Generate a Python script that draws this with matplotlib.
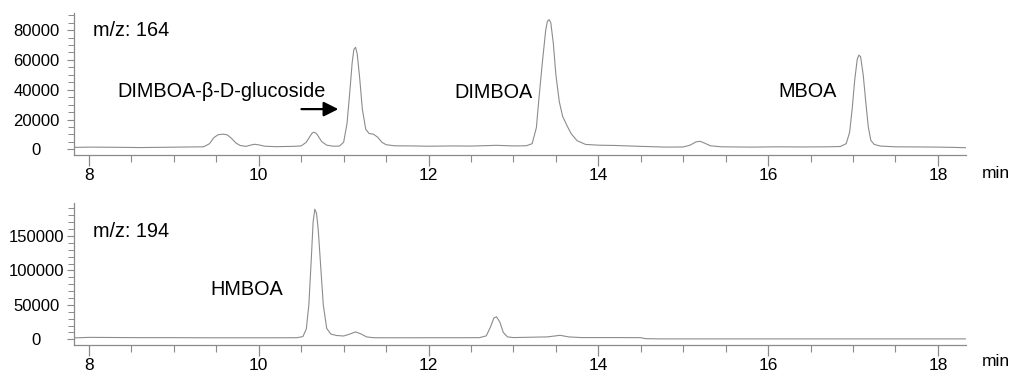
import matplotlib
matplotlib.use('Agg')
import matplotlib.pyplot as plt
from matplotlib.ticker import MultipleLocator

plt.rcParams['font.family'] = ['Liberation Sans', 'DejaVu Sans']

# m/z 164 trace (time in min, intensity)
t164 = [7.82, 8.0, 8.3, 8.6, 8.9, 9.2, 9.35, 9.42, 9.47, 9.52, 9.58, 9.63, 9.68, 9.73,
        9.78, 9.85, 9.9, 9.95, 10.0, 10.07, 10.2, 10.4, 10.5, 10.56, 10.61, 10.63, 10.65,
        10.67, 10.69, 10.74, 10.8, 10.88, 10.95, 11.0, 11.04, 11.07, 11.1, 11.12, 11.14,
        11.16, 11.19, 11.22, 11.26, 11.3, 11.35, 11.4, 11.45, 11.5, 11.6, 11.8, 12.0, 12.3,
        12.5, 12.8, 13.0, 13.15, 13.22, 13.27, 13.3, 13.34, 13.38, 13.4, 13.42, 13.44,
        13.47, 13.5, 13.54, 13.58, 13.63, 13.68, 13.75, 13.85, 14.0, 14.2, 14.5, 14.8,
        15.0, 15.08, 15.15, 15.2, 15.25, 15.32, 15.45, 15.8, 16.1, 16.4, 16.7, 16.85,
        16.92, 16.96, 16.99, 17.02, 17.05, 17.07, 17.09, 17.12, 17.15, 17.18, 17.21, 17.25,
        17.32, 17.5, 17.8, 18.0, 18.2, 18.33]
i164 = [1300, 1500, 1400, 1200, 1400, 1600, 1700, 3800, 7800, 9800, 10200, 9700, 7300, 4300,
        2600, 2000, 2800, 3400, 3000, 2100, 1800, 2000, 2300, 4800, 9300, 11000, 11500,
        11000, 9800, 5300, 2800, 2100, 2200, 4800, 17500, 37000, 58000, 67000, 68500,
        64000, 47000, 27000, 13500, 10600, 10200, 8200, 4800, 3100, 2400, 2300, 2100, 2300,
        2200, 2700, 2300, 2400, 3800, 14500, 34000, 58000, 80000, 86000, 87000, 85000,
        71000, 50000, 32000, 22000, 16000, 10500, 5800, 3300, 2800, 2600, 2000, 1500,
        1600, 2800, 5000, 5400, 4200, 2400, 1700, 1500, 1700, 1600, 1700, 1900,
        3800, 11500, 27000, 46500, 60500, 63300, 62000, 50000, 32000, 15000, 6000, 3300,
        2200, 1700, 1600, 1500, 1300, 1100]

# m/z 194 trace
t194 = [7.82, 8.0, 8.3, 8.6, 9.0, 9.4, 9.8, 10.2, 10.45, 10.52, 10.56, 10.59, 10.62, 10.64,
        10.66, 10.68, 10.7, 10.73, 10.76, 10.8, 10.85, 10.92, 11.0, 11.07, 11.14, 11.2,
        11.27, 11.35, 11.6, 12.0, 12.4, 12.6, 12.68, 12.73, 12.77, 12.8, 12.84, 12.88,
        12.93, 13.0, 13.2, 13.4, 13.55, 13.65, 13.8, 14.2, 14.5, 14.55, 14.7, 15.0, 16.0,
        17.0, 18.0, 18.33]
i194 = [2000, 2800, 2600, 2400, 2400, 2200, 2200, 2200, 2300, 4000, 15000, 50000, 120000,
        170000, 189000, 183000, 160000, 105000, 50000, 16000, 7500, 5500, 4800, 7500,
        10700, 8000, 3500, 2300, 2200, 2300, 2300, 2400, 5000, 18000, 31000, 32700, 25000,
        10000, 3500, 2500, 3000, 3500, 5800, 3500, 2500, 2500, 2400, 1000, 600, 600, 600,
        600, 600, 600]

xticks = [8, 10, 12, 14, 16, 18]
trace_color = '#8c8c8c'
axis_color = '#8a8a8a'

fig = plt.figure(figsize=(10.09, 3.79), dpi=100)
ax1 = fig.add_axes([0.0733, 0.591, 0.884, 0.3747])
ax2 = fig.add_axes([0.0733, 0.0884, 0.884, 0.376])


def style(ax, ymajor, yminor, xpad):
    for s in ['top', 'right']:
        ax.spines[s].set_visible(False)
    for s in ['left', 'bottom']:
        ax.spines[s].set_color(axis_color)
        ax.spines[s].set_linewidth(0.9)
    ax.set_xlim(7.823, 18.33)
    ax.set_xticks(xticks)
    ax.xaxis.set_minor_locator(MultipleLocator(0.5))
    ax.yaxis.set_major_locator(MultipleLocator(ymajor))
    ax.yaxis.set_minor_locator(MultipleLocator(yminor))
    ax.tick_params(axis='x', which='major', length=8, width=0.9, color=axis_color,
                   labelsize=12.5, pad=xpad)
    ax.tick_params(axis='x', which='minor', length=5, width=0.8, color=axis_color)
    ax.tick_params(axis='y', which='major', length=5, width=0.8, color=axis_color,
                   labelsize=12, pad=22)
    ax.tick_params(axis='y', which='minor', length=4, width=0.7, color=axis_color)
    for lab in ax.get_yticklabels():
        lab.set_horizontalalignment('center')


ax1.plot(t164, i164, color=trace_color, lw=0.8)
ax1.set_ylim(-3800, 91500)
style(ax1, 20000, 5000, 1)

ax2.plot(t194, i194, color=trace_color, lw=0.8)
ax2.set_ylim(-9000, 198000)
style(ax2, 50000, 10000, 1)

fs = 14.3
ax1.text(8.05, 80000, 'm/z: 164', fontsize=fs, va='center')
ax1.text(9.56, 39100, 'DIMBOA-\u03b2-D-glucoside', fontsize=fs, va='center', ha='center')
ax1.annotate('', xy=(10.97, 27000), xytext=(10.47, 27000),
             arrowprops=dict(arrowstyle='-|>', color='black', lw=1.6, mutation_scale=22))
ax1.text(12.76, 38400, 'DIMBOA', fontsize=fs, va='center', ha='center')
ax1.text(16.47, 39100, 'MBOA', fontsize=fs, va='center', ha='center')

ax2.text(8.05, 157300, 'm/z: 194', fontsize=fs, va='center')
ax2.text(9.86, 72300, 'HMBOA', fontsize=fs, va='center', ha='center')

fig.text(0.973, 1 - 173 / 379, 'min', fontsize=12.5, va='center', ha='left')
fig.text(0.973, 1 - 362 / 379, 'min', fontsize=12.5, va='center', ha='left')

fig.savefig('out.png', dpi=100)
